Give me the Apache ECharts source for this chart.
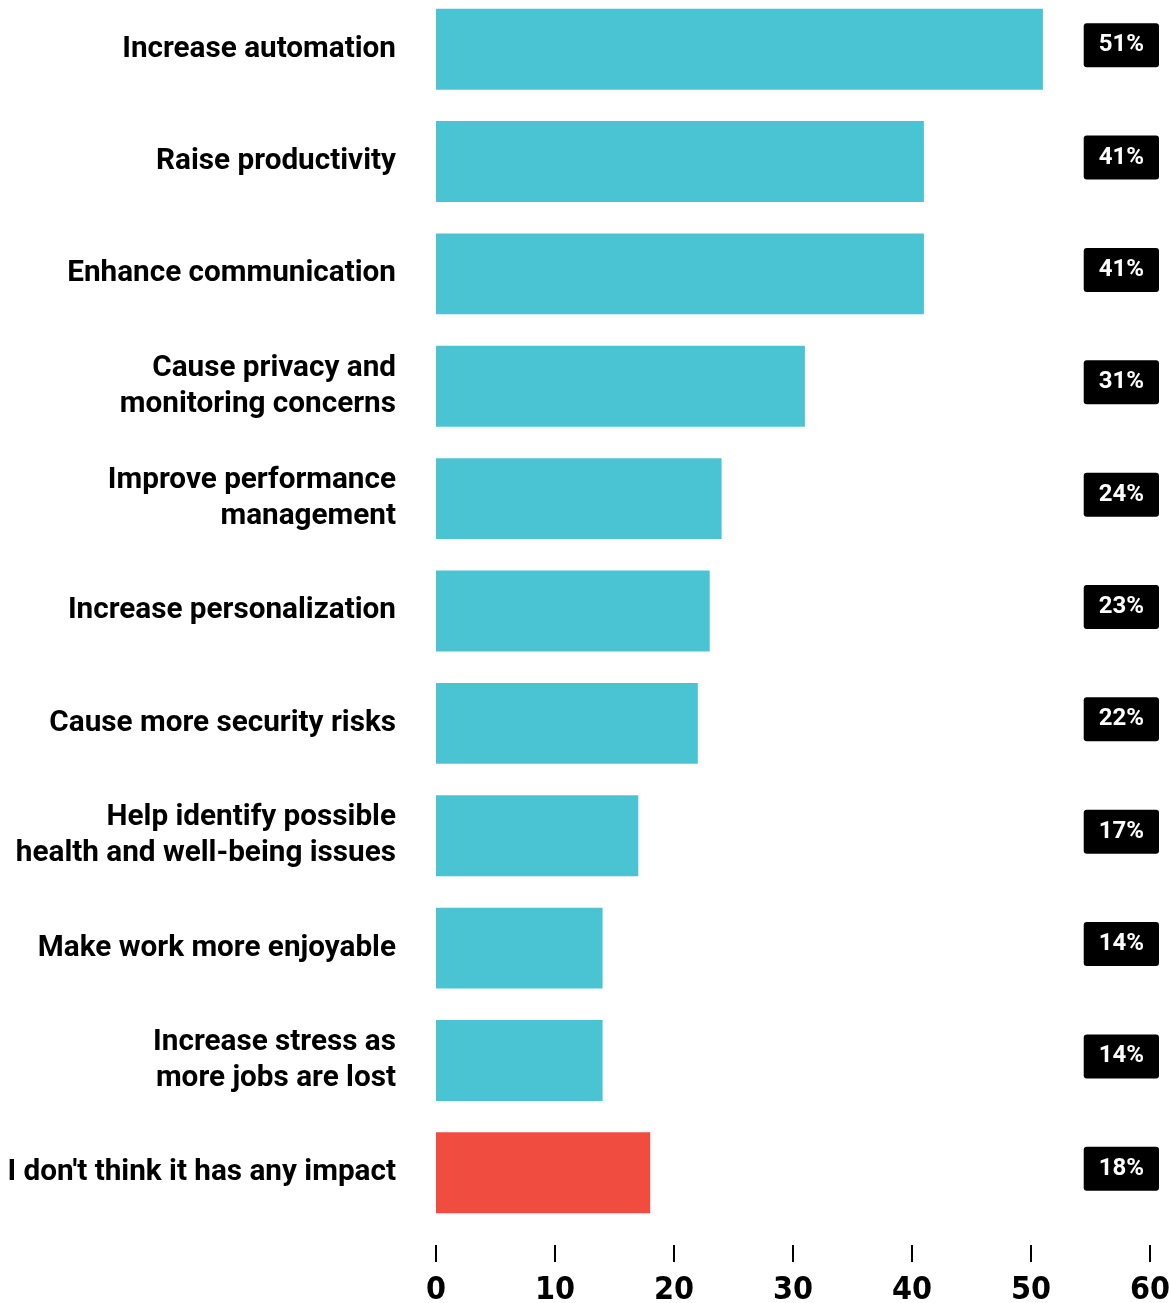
<!DOCTYPE html>
<html>
<head>
<meta charset="utf-8">
<script src="https://cdn.jsdelivr.net/npm/echarts@6/dist/echarts.min.js"></script>
<style>
  html, body { margin: 0; padding: 0; background: #ffffff; overflow: hidden; }
  #chart { position: absolute; left: 0; top: -10px; width: 1170px; height: 1313px; }
</style>
</head>
<body>
<div id="chart"></div>
<script>
// Expected impact of AI on work: share of respondents (%)
const categories = [
  "Increase automation",
  "Raise productivity",
  "Enhance communication",
  "Cause privacy and\nmonitoring concerns",
  "Improve performance\nmanagement",
  "Increase personalization",
  "Cause more security risks",
  "Help identify possible\nhealth and well-being issues",
  "Make work more enjoyable",
  "Increase stress as\nmore jobs are lost",
  "I don't think it has any impact"
];
const values = [51, 41, 41, 31, 24, 23, 22, 17, 14, 14, 18];
const xTicks = [0, 10, 20, 30, 40, 50, 60];
const noImpactCategory = "I don't think it has any impact";

const TEAL = '#4AC4D3';
const RED = '#F04C3F';

const chart = echarts.init(document.getElementById('chart'), null, { renderer: 'canvas' });

chart.setOption({
  animation: false,
  backgroundColor: '#ffffff',
  grid: { left: 436, right: 20, top: 3, bottom: 74, containLabel: false, outerBoundsMode: 'none' },
  xAxis: {
    type: 'value',
    min: xTicks[0],
    max: xTicks[xTicks.length - 1],
    interval: xTicks[1] - xTicks[0],
    position: 'bottom',
    offset: 16,
    axisLine: { show: false },
    axisTick: { show: true, length: 17, lineStyle: { color: '#000', width: 2 } },
    splitLine: { show: false },
    axisLabel: {
      margin: 30,
      color: '#000',
      fontFamily: '"DejaVu Sans Condensed", Roboto, sans-serif',
      fontWeight: 'bold',
      fontSize: 32,
      formatter: v => String(v)
    }
  },
  yAxis: [
    {
      type: 'category',
      data: categories,
      inverse: true,
      axisLine: { show: false },
      axisTick: { show: false },
      axisLabel: {
        margin: 40,
        color: '#000',
        fontFamily: 'Roboto, sans-serif',
        fontWeight: 'bold',
        fontSize: 29.7,
        lineHeight: 36,
        padding: [0, 0, 16, 0]
      }
    },
    {
      type: 'category',
      data: values.map(v => v + '%'),
      inverse: true,
      position: 'right',
      axisLine: { show: false },
      axisTick: { show: false },
      axisLabel: {
        inside: true,
        margin: -9,
        padding: [0, 0, 8, 0],
        formatter: v => '{box|' + v + '}',
        rich: {
          box: {
            color: '#fff',
            fontFamily: 'Roboto, sans-serif',
            fontWeight: 'bold',
            fontSize: 24,
            lineHeight: 24,
            backgroundColor: '#000',
            borderRadius: 3,
            padding: [10, 15, 10, 15]
          }
        }
      }
    }
  ],
  series: [
    {
      type: 'bar',
      yAxisIndex: 0,
      data: values.map((v, i) => ({
        value: v,
        itemStyle: { color: categories[i] === noImpactCategory ? RED : TEAL }
      })),
      barCategoryGap: '28%',
      label: { show: false }
    }
  ]
});
</script>
</body>
</html>
